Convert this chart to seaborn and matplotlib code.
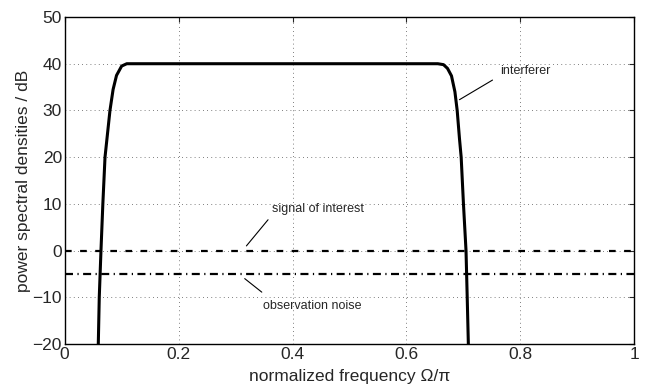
import numpy as np
import pandas as pd
import seaborn as sns
import matplotlib.pyplot as plt

# interferer PSD (normalized frequency, dB)
freq_interf = [0.059, 0.0607, 0.0637, 0.067, 0.0708, 0.0795, 0.085, 0.091, 0.100, 0.109,
               0.40, 0.655, 0.665, 0.672, 0.679, 0.685, 0.689, 0.693, 0.696, 0.700,
               0.7045, 0.7066, 0.7086]
psd_interf = [-20, -10, 0, 10, 20, 30, 34.5, 37.5, 39.5, 40,
              40, 40, 39.8, 39.0, 37.4, 34, 30, 24, 20, 10,
              0, -10, -20]
signal_level = 0
noise_level = -5

x_ticks = [0, 0.2, 0.4, 0.6, 0.8, 1]
y_ticks = [-20, -10, 0, 10, 20, 30, 40, 50]

sns.set_style("white")
plt.rcParams['font.family'] = ['Liberation Sans', 'DejaVu Sans']
plt.rcParams['xtick.direction'] = 'in'
plt.rcParams['ytick.direction'] = 'in'

fig, ax = plt.subplots(figsize=(6.56, 3.91), dpi=100)
fig.subplots_adjust(left=0.0986, right=0.967, bottom=0.1202, top=0.9565)

df = pd.DataFrame({'f': freq_interf, 'psd': psd_interf})
sns.lineplot(data=df, x='f', y='psd', ax=ax, color='black', linewidth=2.2,
             sort=False, estimator=None)

# flat PSDs: dashed = signal, dash-dot = noise
ax.axhline(signal_level, color='black', linewidth=1.6, linestyle=(0, (3.0, 3.8)))
ax.axhline(noise_level, color='black', linewidth=1.6, linestyle=(0, (3.6, 2.0, 0.55, 2.0)))

ax.set_xlim(0, 1)
ax.set_ylim(-20, 50)
ax.set_xticks(x_ticks)
ax.set_xticklabels(['0', '0.2', '0.4', '0.6', '0.8', '1'])
ax.set_yticks(y_ticks)
ax.set_yticklabels([str(v).replace('-', '\u2212') for v in y_ticks])
ax.tick_params(labelsize=12.5, length=3.5, width=0.8, top=True, right=True, pad=2)
ax.grid(True, linestyle=(0, (1, 4)), color='#555555', linewidth=0.6)
for s in ax.spines.values():
    s.set_color('black')
    s.set_linewidth(1.0)

ax.set_xlabel('normalized frequency \u03a9/\u03c0', fontsize=12.5, labelpad=5)
ax.set_ylabel('power spectral densities / dB', fontsize=12.5, labelpad=1)

# annotations with leader lines
ax.plot([0.751, 0.693], [36.5, 32.3], color='black', linewidth=0.8)
ax.text(0.764, 38.5, 'interferer', fontsize=9, va='center', ha='left')
ax.plot([0.357, 0.319], [6.6, 1.0], color='black', linewidth=0.8)
ax.text(0.364, 8.8, 'signal of interest', fontsize=9, va='center', ha='left')
ax.plot([0.316, 0.346], [-6.0, -8.9], color='black', linewidth=0.8)
ax.text(0.348, -11.8, 'observation noise', fontsize=9, va='center', ha='left')

plt.savefig('out.png', dpi=100)
